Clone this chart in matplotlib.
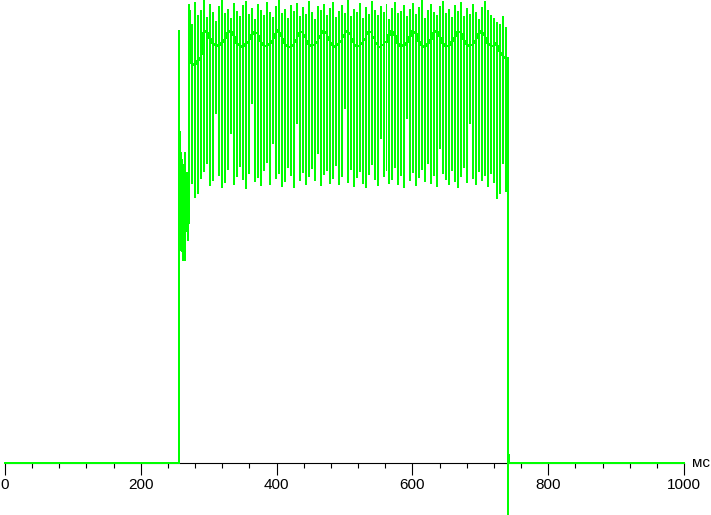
import matplotlib.pyplot as plt

# time axis in ms, signal in arbitrary units (baseline = 0)
x_ticks = [0, 200, 400, 600, 800, 1000]
unit_label = "мс"

# rise of the signal (ms, value)
onset_t = [0, 255.9, 255.9, 256.8, 257.4, 258.3, 259.3, 260.5, 261.5, 262.7, 263.5,
           264.7, 265.5, 266.5, 268.0, 269.5, 270.0, 271.0, 271.6, 272.3, 273.0]
onset_v = [0, 0, 432, 350, 233, 331, 213, 303, 203, 298, 231,
           310, 203, 288, 290, 288, 223, 286, 458, 430, 420]

# oscillating plateau, one entry per cycle
cycle_start = 273.5
cycle_end = 739.8
level = [400, 398, 402, 405, 430, 432, 425, 420, 418, 417, 420, 423, 430, 432, 428, 420,
         418, 416, 419, 421, 428, 431, 430, 422, 418, 417, 419, 422, 429, 433, 427, 420,
         417, 416, 418, 423, 430, 431, 426, 419, 417, 418, 421, 427, 432, 430, 423, 418,
         416, 419, 422, 428, 432, 429, 421, 417, 417, 420, 424, 431, 431, 425, 419, 416,
         418, 421, 428, 432, 428, 420, 417, 418, 420, 426, 432, 430, 422, 418, 416, 419,
         423, 430, 432, 427, 420, 417, 417, 421, 425, 431, 431, 424, 419, 417, 418, 422,
         429, 432, 428, 420, 418, 417, 420, 412, 408, 405]
peak = [438, 460, 447, 452, 463, 445, 458, 450, 441, 456, 462, 449, 453, 444, 459, 451,
        446, 457, 461, 448, 454, 443, 458, 452, 447, 460, 450, 445, 456, 462, 449, 453,
        444, 457, 451, 459, 446, 455, 448, 461, 450, 443, 456, 452, 458, 447, 454, 460,
        445, 451, 457, 449, 462, 446, 453, 450, 459, 444, 455, 448, 461, 452, 447, 456,
        450, 458, 443, 454, 460, 449, 451, 457, 446, 453, 459, 448, 455, 462, 444, 452,
        458, 450, 447, 456, 461, 449, 453, 445, 457, 451, 460, 446, 454, 448, 458, 450,
        443, 455, 461, 452, 447, 444, 440, 438, 446, 435]
trough = [280, 266, 270, 285, 292, 300, 278, 283, 350, 288, 276, 281, 294, 330, 279, 287,
          297, 284, 275, 290, 360, 282, 286, 278, 293, 301, 279, 320, 285, 290, 277, 282,
          296, 288, 276, 340, 283, 291, 279, 287, 295, 283, 310, 278, 289, 293, 280, 285,
          298, 279, 287, 355, 281, 294, 277, 286, 292, 280, 276, 289, 299, 284, 278, 325,
          287, 293, 280, 284, 296, 279, 288, 276, 345, 283, 291, 278, 286, 294, 282, 300,
          280, 288, 277, 315, 290, 284, 279, 293, 282, 276, 287, 296, 281, 340, 285, 279,
          292, 283, 288, 277, 290, 281, 265, 270, 300, 272]

# switch-off (ms, value)
end_t = [740.1, 740.3, 740.8, 741.2, 742.5, 1000]
end_v = [405, -52, 0, 11, 0, 0]

# build the line: flat level, then one vertical swing up and down
t = list(onset_t)
v = list(onset_v)
cycles = list(zip(level, peak, trough))
period = (cycle_end - cycle_start) / len(cycles)
for i, (lv, pk, tr) in enumerate(cycles):
    t0 = cycle_start + i * period
    ts = t0 + 0.55 * period
    t += [t0, ts, ts, ts, ts]
    v += [lv, lv, pk, tr, lv]
t += end_t
v += end_v

plt.rcParams['font.family'] = ['Liberation Sans', 'DejaVu Sans']

fig = plt.figure(figsize=(7.11, 5.15), dpi=100)
ax = fig.add_axes([5 / 711, 0, 679 / 711, 1])

ax.plot(t, v, color='#00ff00', lw=0.72, zorder=3, clip_on=False, antialiased=False)

ax.set_xlim(0, 1000)
ax.set_ylim(-52, 463)
for s in ['top', 'right', 'left']:
    ax.spines[s].set_visible(False)
ax.spines['bottom'].set_position(('data', 0))
ax.spines['bottom'].set_linewidth(0.8)
ax.spines['bottom'].set_zorder(2)
ax.set_yticks([])
ax.set_xticks(x_ticks)
ax.set_xticks([m for m in range(40, 1000, 40) if m % 200], minor=True)
ax.tick_params(axis='x', which='major', length=8.6, width=0.8, pad=2.5,
               labelsize=11, direction='out')
ax.tick_params(axis='x', which='minor', length=3.6, width=0.8, direction='out')
for lab in ax.get_xticklabels():
    lab.set_clip_on(False)

ax.text(1012, 0, unit_label, fontsize=11, va='center', ha='left', clip_on=False)

fig.savefig("out.png", dpi=100)
